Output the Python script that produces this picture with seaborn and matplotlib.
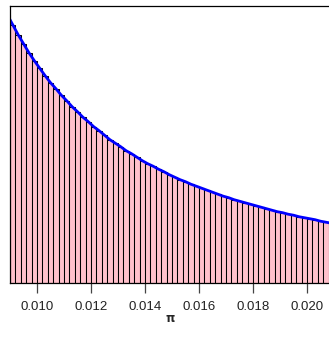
import numpy as np
import pandas as pd
import matplotlib
matplotlib.use("Agg")
import matplotlib.pyplot as plt
import seaborn as sns

# Histogram bins of the sampled proportion pi (width 0.0002)
bin_start = 0.0088
bin_width = 0.0002
density = [268, 258, 248, 239, 230, 222, 214.5, 207, 200, 194, 187.5,
           182, 176, 171, 165.5, 161, 156, 152, 147.5, 143, 139.5,
           136, 132, 129, 125.5, 122, 119, 116.5, 113.5, 111, 108,
           105.5, 103, 101, 98.5, 96.5, 94.5, 92.5, 90.5, 88.5, 86.5,
           85, 83, 81.5, 80, 78.5, 77, 75.5, 74, 72.5, 71,
           70, 68.5, 67.5, 66, 65, 64, 63, 61.5, 60.5, 59.5]
tick_values = [0.010, 0.012, 0.014, 0.016, 0.018, 0.020]
tick_labels = ["0.010", "0.012", "0.014", "0.016", "0.018", "0.020"]

n_bins = len(density)
edges = bin_start + bin_width * np.arange(n_bins + 1)
centers = 0.5 * (edges[:-1] + edges[1:])
df = pd.DataFrame({"pi": centers, "density": density})

sns.set_style("white", {"xtick.bottom": True, "xtick.direction": "out"})
plt.rcParams["font.family"] = ["Liberation Sans", "DejaVu Sans"]
plt.rcParams["xtick.major.size"] = 7
plt.rcParams["xtick.major.width"] = 0.9
plt.rcParams["xtick.color"] = "#444444"

fig = plt.figure(figsize=(3.29, 3.49), dpi=100)
ax = fig.add_axes([9.5 / 329, 66.3 / 349, 321.5 / 329, 277.2 / 349])

sns.histplot(data=df, x="pi", weights="density", bins=n_bins,
             binrange=(float(edges[0]), float(edges[-1])), stat="count",
             color="pink", edgecolor="black", linewidth=0.75, alpha=1.0, ax=ax)
sns.lineplot(data=df, x="pi", y="density", color="blue", linewidth=2.0, ax=ax)

ax.set_xlim(0.008981, 0.020889)
ax.set_ylim(0, 277.2)
ax.set_xticks(tick_values)
ax.set_xticklabels(tick_labels)
ax.set_yticks([])
ax.set_xlabel("")
ax.set_ylabel("")
ax.tick_params(axis="x", which="major", bottom=True, length=7, width=0.9,
               color="#444444", pad=6, labelsize=9.5, labelcolor="#222222")
for s in ax.spines.values():
    s.set_color("black")
    s.set_linewidth(0.9)

fig.text(170 / 329, 1 - 318 / 349, "π", ha="center", va="center",
         fontsize=8.5, fontweight="bold", family=["DejaVu Sans"])

fig.savefig("out.png", dpi=100)
